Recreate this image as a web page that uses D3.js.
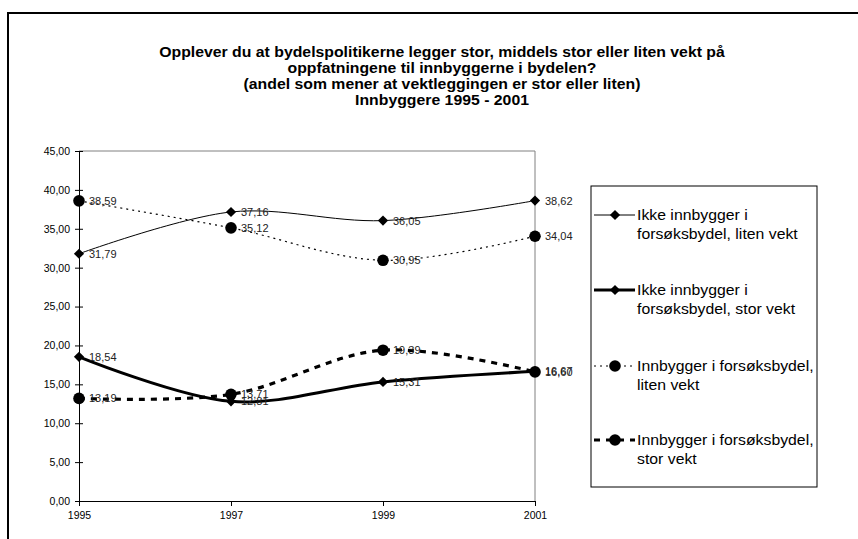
<!DOCTYPE html>
<html>
<head>
<meta charset="utf-8">
<script src="https://cdn.jsdelivr.net/npm/d3@7"></script>
<style>
  body { margin: 0; background: #fff; }
  svg { font-family: Arial, "Liberation Sans", sans-serif; }
</style>
</head>
<body>
<div class="canva"></div>
<script>
// data
const years = ["1995", "1997", "1999", "2001"];
const yTicks = [0, 5, 10, 15, 20, 25, 30, 35, 40, 45];
const ikkeLiten = [31.79, 37.16, 36.05, 38.62];
const ikkeStor = [18.54, 12.81, 15.31, 16.67];
const innLiten = [38.59, 35.12, 30.95, 34.04];
const innStor = [13.19, 13.71, 19.39, 16.60];
const seriesNames = [
  ["Ikke innbygger i", "forsøksbydel, liten vekt"],
  ["Ikke innbygger i", "forsøksbydel, stor vekt"],
  ["Innbygger i forsøksbydel,", "liten vekt"],
  ["Innbygger i forsøksbydel,", "stor vekt"]
];
const titleLines = [
  "Opplever du at bydelspolitikerne legger stor, middels stor eller liten vekt på",
  "oppfatningene til innbyggerne i bydelen?",
  "(andel som mener at vektleggingen er stor eller liten)",
  "Innbyggere 1995 - 2001"
];

// style per series
const styles = [
  { width: 1, dash: null, marker: "diamond" },
  { width: 3, dash: null, marker: "diamond" },
  { width: 1.2, dash: "2,4", marker: "circle" },
  { width: 3.2, dash: "6,6", marker: "circle" }
];
const series = [ikkeLiten, ikkeStor, innLiten, innStor];

const W = 858, H = 539;
const font = "Arial, 'Liberation Sans', sans-serif";
const svg = d3.select(".canva").append("svg")
  .attr("width", W).attr("height", H);

// outer frame
svg.append("rect")
  .attr("x", 8).attr("y", 13)
  .attr("width", W).attr("height", H)
  .attr("fill", "none").attr("stroke", "#000").attr("stroke-width", 2);

// title (text in the original is a bit wide, so stretch it sideways)
svg.append("g").selectAll("text").data(titleLines)
  .enter().append("text")
  .attr("transform", (d, i) => `translate(442,${57 + i * 16}) scale(1.13,1)`)
  .attr("text-anchor", "middle")
  .attr("font-size", 14).attr("font-weight", "bold")
  .text(d => d);

// scales
const x = d3.scalePoint().domain(years).range([79, 535]);
const y = d3.scaleLinear().domain([0, 45]).range([501, 151]);

// plot area border (top and right in gray)
svg.append("path")
  .attr("d", `M79,151H535V501`)
  .attr("fill", "none").attr("stroke", "#808080").attr("stroke-width", 1);

// axes
const yAxis = svg.append("g").attr("transform", "translate(79,0)")
  .call(d3.axisLeft(y).tickValues(yTicks).tickSize(4)
    .tickFormat(d => d3.format(".2f")(d).replace(".", ",")));
yAxis.selectAll(".tick line").attr("x1", -4).attr("x2", 4);
yAxis.selectAll("text").attr("x", -9).attr("font-size", 10.5).attr("font-family", font);

const xAxis = svg.append("g").attr("transform", "translate(0,501)")
  .call(d3.axisBottom(x).tickSize(5));
xAxis.selectAll("text").attr("y", 11).attr("font-size", 10.5).attr("font-family", font);
svg.selectAll(".domain").attr("stroke", "#000");

// lines
const line = d3.line()
  .x((d, i) => x(years[i]))
  .y(d => y(d))
  .curve(d3.curveCatmullRom.alpha(0.5));

// diamond marker = square turned 45 degrees
const diamond = d3.symbol().type(d3.symbolSquare).size(52);

series.forEach((vals, s) => {
  const st = styles[s];
  svg.append("path")
    .attr("d", line(vals))
    .attr("fill", "none").attr("stroke", "#000")
    .attr("stroke-width", st.width)
    .attr("stroke-dasharray", st.dash);

  const g = svg.append("g");
  if (st.marker === "diamond") {
    g.selectAll("path").data(vals).enter().append("path")
      .attr("d", diamond)
      .attr("transform", (d, i) => `translate(${x(years[i])},${y(d)}) rotate(45)`)
      .attr("fill", "#000");
  } else {
    g.selectAll("circle").data(vals).enter().append("circle")
      .attr("cx", (d, i) => x(years[i]))
      .attr("cy", d => y(d))
      .attr("r", 5.8).attr("fill", "#000");
  }

  // data labels
  g.selectAll("text").data(vals).enter().append("text")
    .attr("x", (d, i) => x(years[i]) + 10)
    .attr("y", d => y(d) + 4)
    .attr("font-size", 11)
    .attr("fill", "#222")
    .text(d => d3.format(".2f")(d).replace(".", ","));
});

// legend
const legend = svg.append("g");
legend.append("rect")
  .attr("x", 591).attr("y", 186).attr("width", 226).attr("height", 301)
  .attr("fill", "#fff").attr("stroke", "#000").attr("stroke-width", 1);

const legendY = [215, 290, 366, 440];
seriesNames.forEach((lines, s) => {
  const st = styles[s];
  const ly = legendY[s];
  legend.append("line")
    .attr("x1", 594).attr("x2", 635).attr("y1", ly).attr("y2", ly)
    .attr("stroke", "#000").attr("stroke-width", st.width)
    .attr("stroke-dasharray", st.dash);
  if (st.marker === "diamond") {
    legend.append("path").attr("d", diamond)
      .attr("transform", `translate(615,${ly}) rotate(45)`).attr("fill", "#000");
  } else {
    legend.append("circle").attr("cx", 615).attr("cy", ly).attr("r", 5.8).attr("fill", "#000");
  }
  legend.selectAll(null).data(lines).enter().append("text")
    .attr("transform", (d, i) => `translate(637,${ly + 5 + i * 19}) scale(1.13,1)`)
    .attr("font-size", 14)
    .text(d => d);
});
</script>
</body>
</html>
